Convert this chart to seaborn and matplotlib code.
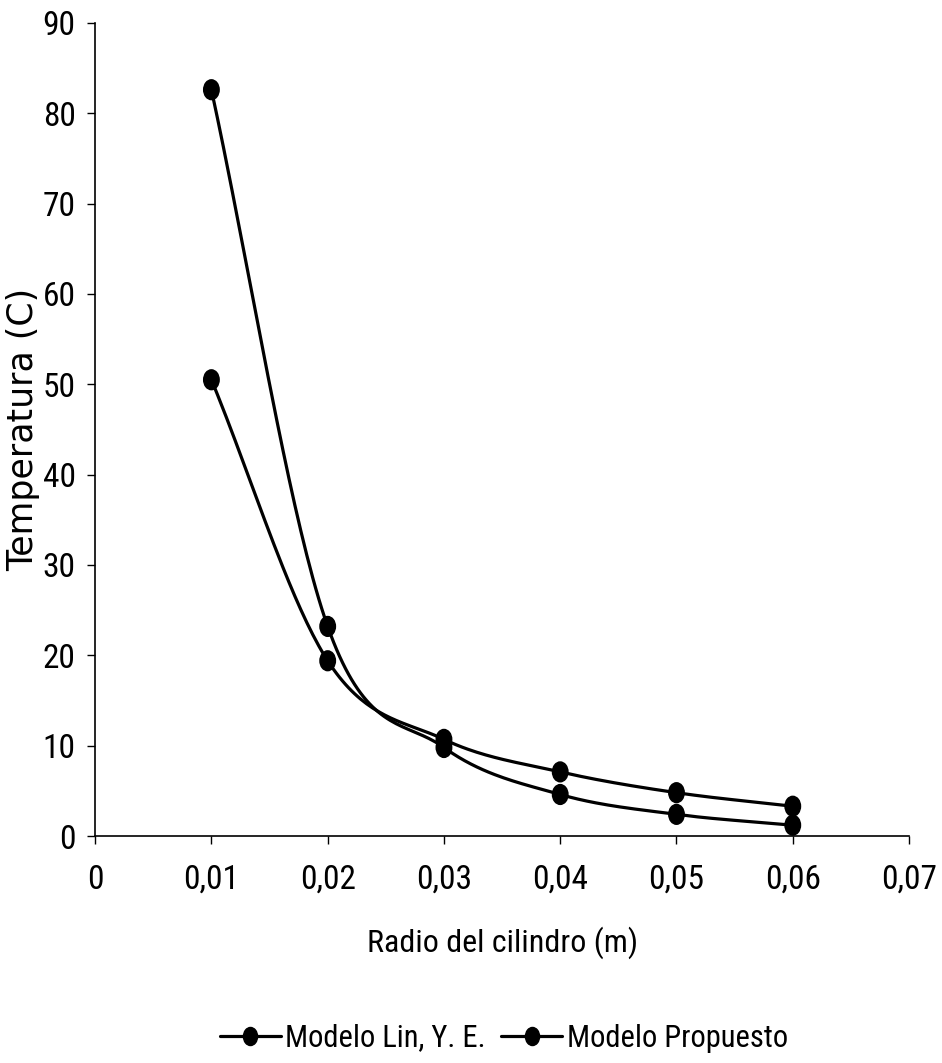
import numpy as np
import pandas as pd
import matplotlib
matplotlib.use("Agg")
import matplotlib.pyplot as plt
import seaborn as sns
from matplotlib.lines import Line2D
from matplotlib.path import Path
from matplotlib.ticker import FuncFormatter

# datos
radio = [0.01, 0.02, 0.03, 0.04, 0.05, 0.06]
temp_lin = [82.6, 23.2, 9.8, 4.6, 2.4, 1.2]
temp_prop = [50.5, 19.4, 10.7, 7.1, 4.8, 3.3]
series = ["Modelo Lin, Y. E.", "Modelo Propuesto"]


def suavizar(x, y, n=40):
    # curva suavizada tipo Excel (Catmull-Rom) solo para dibujar la linea
    x = np.asarray(x, float)
    y = np.asarray(y, float)
    px = np.concatenate([[2 * x[0] - x[1]], x, [2 * x[-1] - x[-2]]])
    py = np.concatenate([[2 * y[0] - y[1]], y, [2 * y[-1] - y[-2]]])
    t = np.linspace(0, 1, n)
    xs, ys = [], []
    for i in range(1, len(px) - 2):
        for p, out in ((px, xs), (py, ys)):
            p0, p1, p2, p3 = p[i - 1], p[i], p[i + 1], p[i + 2]
            out.extend(0.5 * ((2 * p1) + (-p0 + p2) * t
                              + (2 * p0 - 5 * p1 + 4 * p2 - p3) * t ** 2
                              + (-p0 + 3 * p1 - 3 * p2 + p3) * t ** 3))
    return np.array(xs), np.array(ys)


puntos = pd.DataFrame({
    "radio": radio * 2,
    "temp": temp_lin + temp_prop,
    "serie": [series[0]] * len(radio) + [series[1]] * len(radio),
})

curvas = []
for nombre, vals in zip(series, [temp_lin, temp_prop]):
    xs, ys = suavizar(radio, vals)
    curvas.append(pd.DataFrame({"radio": xs, "temp": ys, "serie": nombre}))
curvas = pd.concat(curvas, ignore_index=True)

# marcador eliptico (mas alto que ancho, como en el original)
circ = Path.unit_circle()
elipse = Path(circ.vertices * np.array([0.78, 1.0]), circ.codes)

sns.set_style("white")
plt.rcParams["font.family"] = ["DejaVu Sans"]
plt.rcParams["text.color"] = "black"
plt.rcParams["axes.labelcolor"] = "black"
plt.rcParams["xtick.color"] = "black"
plt.rcParams["ytick.color"] = "black"

fig = plt.figure(figsize=(9.42, 10.63), dpi=100)
ax = fig.add_axes([0.101, 0.2135, 0.864, 0.765])

sns.lineplot(data=curvas, x="radio", y="temp", hue="serie", units="serie",
             estimator=None, sort=False, palette=["black", "black"],
             linewidth=2.3, legend=False, ax=ax)
sns.scatterplot(data=puntos, x="radio", y="temp", hue="serie",
                palette=["black", "black"], s=200, marker=elipse,
                edgecolor="black", legend=False, ax=ax, zorder=3)

ax.set_xlim(0, 0.07)
ax.set_ylim(0, 90)
ax.set_xticks(np.arange(0, 0.0701, 0.01))
ax.set_yticks(np.arange(0, 91, 10))
ax.xaxis.set_major_formatter(FuncFormatter(
    lambda v, p: "0" if abs(v) < 1e-9 else f"{v:.2f}".replace(".", ",")))

narrow = ["Roboto Condensed", "Roboto", "DejaVu Sans"]
for lab in ax.get_xticklabels() + ax.get_yticklabels():
    lab.set_family(narrow)
    lab.set_fontsize(24)

ax.tick_params(axis="both", direction="out", length=6, width=1, color="black",
               left=True, bottom=True)
ax.tick_params(axis="x", pad=14)
ax.tick_params(axis="y", pad=8)

for s in ["top", "right"]:
    ax.spines[s].set_visible(False)
for s in ["left", "bottom"]:
    ax.spines[s].set_color("black")
    ax.spines[s].set_linewidth(1.2)

ax.set_xlabel("Radio del cilindro (m)", fontsize=23, family=narrow, labelpad=22)
ax.set_ylabel("Temperatura (C)", fontsize=25, labelpad=2)

handles = [Line2D([], [], color="black", linewidth=2.3, marker=elipse,
                  markersize=13) for _ in series]
fig.legend(handles, series, loc="lower center", bbox_to_anchor=(0.535, -0.016),
           ncol=2, frameon=False, handlelength=2.0, handletextpad=0.15,
           columnspacing=0.5, prop={"family": narrow, "size": 22})

fig.savefig("out.png", dpi=100)
